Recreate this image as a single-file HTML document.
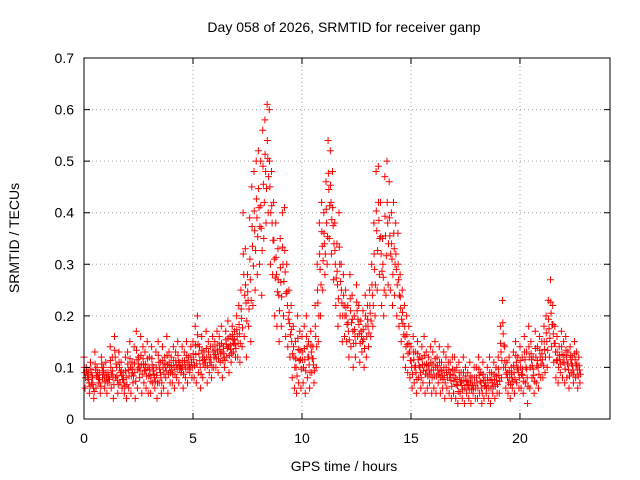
<!DOCTYPE html>
<html><head><meta charset="utf-8"><style>
body{margin:0;background:#fff}
svg{display:block;font-family:"Liberation Sans",sans-serif}
</style></head><body>
<svg id="chart" width="640" height="480" viewBox="0 0 640 480" xmlns="http://www.w3.org/2000/svg">
<rect width="640" height="480" fill="#fff"/>
<text x="344" y="32" font-size="14" text-anchor="middle">Day 058 of 2026, SRMTID for receiver ganp</text>
<text x="344" y="471" font-size="14" text-anchor="middle">GPS time / hours</text>
<text x="19" y="238" font-size="14" text-anchor="middle" transform="rotate(-90 19 238)">SRMTID / TECUs</text>
<g id="grid"></g>
<g id="marks"></g>
<rect x="84" y="58" width="526" height="361" fill="none" stroke="#000" stroke-width="1"/>
<g id="ticks"></g>
</svg>
<script>
const xTicks=[0,5,10,15,20];
const yTicks=[0,0.1,0.2,0.3,0.4,0.5,0.6,0.7];
const yTickLabels=["0","0.1","0.2","0.3","0.4","0.5","0.6","0.7"];
const tStart=0, tStep=0.1;
const upperVals=[.12,.10,.09,.11,.08,.13,.10,.09,.12,.10,
.11,.09,.14,.12,.16,.10,.13,.11,.09,.12,
.13,.15,.11,.14,.17,.12,.16,.14,.13,.15,
.12,.14,.10,.13,.15,.11,.14,.12,.16,.13,
.12,.14,.13,.15,.11,.14,.13,.15,.12,.14,
.15,.18,.20,.14,.16,.13,.17,.15,.14,.16,
.15,.17,.16,.18,.14,.17,.19,.16,.18,.17,
.20,.22,.25,.40,.33,.28,.39,.45,.48,.50,
.52,.50,.56,.58,.61,.60,.48,.42,.38,.33,
.35,.40,.41,.30,.25,.22,.18,.15,.20,.17,
.16,.18,.20,.15,.17,.14,.22,.30,.38,.42,
.40,.46,.54,.52,.48,.38,.34,.40,.30,.28,
.25,.22,.28,.24,.20,.26,.22,.19,.21,.24,
.22,.25,.30,.38,.48,.49,.42,.35,.47,.50,
.46,.40,.42,.38,.36,.28,.25,.22,.20,.18,
.14,.16,.13,.15,.12,.14,.16,.13,.12,.14,
.13,.15,.12,.14,.11,.13,.12,.14,.11,.12,
.12,.10,.11,.09,.12,.10,.09,.11,.08,.10,
.10,.12,.09,.11,.08,.10,.12,.09,.11,.10,
.12,.18,.23,.14,.11,.12,.10,.13,.15,.12,
.14,.12,.16,.13,.18,.15,.12,.17,.14,.16,
.15,.18,.20,.23,.27,.22,.18,.16,.14,.17,
.15,.16,.13,.14,.12,.15,.13,.12];
const lowerVals=[.06,.08,.05,.07,.04,.06,.07,.05,.08,.06,
.05,.07,.06,.04,.08,.05,.07,.06,.05,.04,
.06,.05,.07,.04,.06,.08,.05,.07,.06,.05,
.05,.07,.06,.04,.07,.05,.06,.08,.05,.07,
.07,.06,.08,.07,.09,.06,.08,.07,.09,.08,
.08,.07,.09,.06,.08,.10,.07,.09,.08,.10,
.10,.09,.11,.08,.10,.12,.09,.11,.13,.12,
.12,.11,.14,.16,.12,.18,.15,.22,.25,.28,
.30,.24,.35,.38,.40,.30,.28,.20,.18,.15,
.18,.20,.16,.14,.12,.08,.06,.05,.07,.06,
.07,.05,.08,.06,.09,.07,.10,.15,.20,.25,
.28,.30,.35,.32,.27,.22,.18,.20,.15,.16,
.15,.12,.14,.10,.12,.16,.11,.13,.10,.12,
.14,.16,.18,.20,.25,.28,.22,.20,.24,.26,
.25,.22,.24,.20,.18,.15,.12,.10,.09,.08,
.06,.07,.05,.08,.06,.07,.05,.06,.07,.05,
.06,.05,.07,.05,.06,.04,.06,.05,.04,.05,
.04,.03,.05,.04,.03,.05,.04,.03,.05,.04,
.04,.05,.03,.04,.05,.04,.03,.05,.04,.05,
.05,.08,.10,.06,.05,.04,.06,.05,.07,.06,
.06,.05,.07,.03,.06,.08,.05,.07,.06,.08,
.08,.09,.10,.12,.14,.11,.08,.07,.09,.08,
.07,.08,.06,.09,.07,.08,.06,.07];
const X0=84,X1=610,Y0=419,Y1=58,XMAX=24.13,YMAX=0.7;
const xs=v=>X0+(v/XMAX)*(X1-X0);
const ys=v=>Y0-(v/YMAX)*(Y0-Y1);
const NS="http://www.w3.org/2000/svg";
const grid=document.getElementById('grid'),ticks=document.getElementById('ticks'),marks=document.getElementById('marks');
function mk(tag,attrs,parent){const e=document.createElementNS(NS,tag);for(const k in attrs)e.setAttribute(k,attrs[k]);parent.appendChild(e);return e;}
yTicks.forEach((v,i)=>{
 const y=ys(v);
 if(i>0&&i<yTicks.length-1){const g=mk('line',{x1:X0,x2:X1,y1:y,y2:y,stroke:'#a0a0a0','stroke-dasharray':'1,3'},grid);
 
 }
 const t=mk('path',{d:`M${X0} ${y}h6M${X1} ${y}h-6`,stroke:'#000'},ticks);
 
 
 const l=mk('text',{x:X0-10,y:y+5,'font-size':14,'text-anchor':'end'},ticks);
 l.textContent=yTickLabels[i];
 
 
});
xTicks.forEach((v,i)=>{
 const x=xs(v);
 if(i>0){const g=mk('line',{x1:x,x2:x,y1:Y0,y2:Y1,stroke:'#a0a0a0','stroke-dasharray':'1,3'},grid);
 
 }
 const t=mk('path',{d:`M${x} ${Y0}v-6M${x} ${Y1}v6`,stroke:'#000'},ticks);
 
 
 const l=mk('text',{x:x,y:Y0+24,'font-size':14,'text-anchor':'middle'},ticks);
 l.textContent=String(v);
 
 
});
let d='';
const plus=(t,v)=>{const x=xs(t),y=ys(v);d+=`M${(x-3.5).toFixed(1)} ${y.toFixed(1)}h7M${x.toFixed(1)} ${(y-3.5).toFixed(1)}v7`;};
upperVals.forEach((v,i)=>{
 const t=tStart+i*tStep, lo=lowerVals[i];
 plus(t,v);plus(t+0.05,lo);
 plus(t+0.03,(v+lo)/2);plus(t+0.07,(2*lo+v)/3);plus(t+0.01,(lo+2*v)/3);
});
const p=mk('path',{d:d,stroke:'#ff0000','stroke-width':1,fill:'none'},marks);


</script>
</body></html>
